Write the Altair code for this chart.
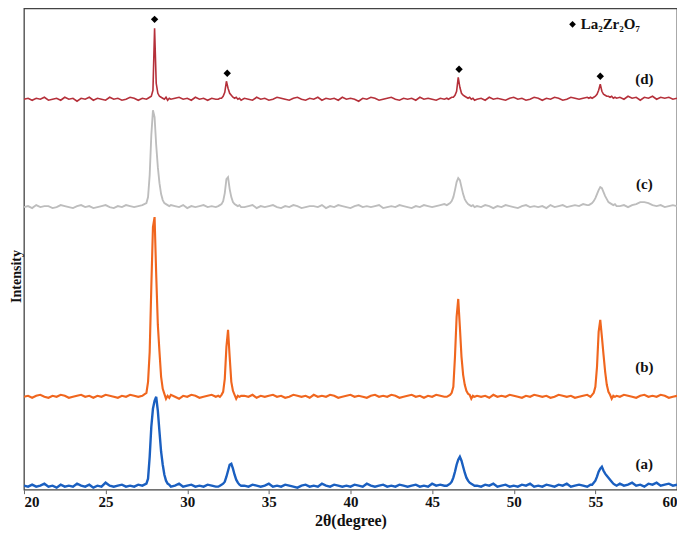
import altair as alt
import pandas as pd

# 2-theta sampling grid: (start, step, count) per segment
SEGMENTS = [(20.0, 0.25, 31), (27.6, 0.1, 15), (29.25, 0.25, 11), (31.9, 0.1, 15),
            (33.5, 0.25, 50), (45.9, 0.1, 18), (47.75, 0.25, 28), (54.6, 0.1, 18),
            (56.5, 0.25, 15)]
two_theta = [round(s + i * st, 2) for s, st, n in SEGMENTS for i in range(n)]

# relative intensities (a.u.), segment by segment
d_counts = [
    [0,1,-1,1,0,2,-1,0,1,-1,2,0,1,-2,1,0,2,-1,1,0,-1,2,0,1,-1,0,2,1,-1,1,0],
    [1,2,3,9,71,16,6,3,2,1,0,2,-1,1,0],
    [1,2,0,1,-1,2,0,1,-1,1,0],
    [0,1,1,3,7,18,11,6,4,2,1,2,0,1,-1],
    [1,0,-1,2,0,1,-1,0,2,1, 0,-1,1,2,0,-1,1,0,2,-1, 1,0,1,-1,2,0,1,0,-2,1,
     0,2,1,-1,0,1,2,0,-1,1, 0,1,-1,2,0,1,0,-1,1,0],
    [1,0,1,2,2,4,8,22,12,6,4,3,2,1,2,0,1,-1],
    [0,1,-1,2,0,1,0,-1,1,2, 0,1,-1,0,2,1,-1,1,0,2, 1,-1,0,2,1,0,1,2],
    [1,2,1,2,3,5,9,15,8,5,4,3,3,2,3,1,2,1],
    [2,0,3,1,2,-1,2,1,3,0,2,1,2,0,1],
]
c_counts = [
    [0,1,-1,2,0,1,1,-1,0,2,1,0,-1,1,2,0,1,-1,0,1,2,0,-1,1,0,2,1,0,1,2,4],
    [10,32,72,97,90,62,40,24,13,7,4,3,2,1,2],
    [1,0,2,-1,1,0,1,2,0,1,0],
    [1,2,3,6,14,28,30,18,10,5,3,2,1,2,0],
    [0,1,2,-1,1,0,1,2,0,-1, 1,0,2,1,-1,0,1,1,0,2, -1,1,0,2,1,0,-1,1,2,0,
     1,0,1,2,-1,0,1,0,2,1, 0,-1,1,0,2,1,0,1,2,3],
    [2,3,4,6,10,17,25,29,27,20,13,8,5,3,2,1,2,0],
    [1,0,2,1,-1,1,0,2,1,0, -1,1,2,0,1,0,1,-1,2,0, 1,2,0,1,2,1,3,2],
    [2,3,4,6,9,13,17,20,19,15,11,8,5,4,3,2,3,1],
    [1,2,0,2,3,5,5,4,2,1,2,0,1,2,1],
]
b_counts = [
    [0,1,-1,1,2,0,-1,1,0,2,1,-1,0,1,2,0,1,-1,1,0,2,1,0,-1,1,0,2,1,0,1,4],
    [15,45,110,170,180,122,72,45,20,8,3,-2,1,-1,2],
    [0,-2,1,0,2,1,-1,0,1,2,0],
    [1,0,2,5,18,50,67,40,15,6,2,-2,1,0,1],
    [1,0,2,-1,1,0,1,2,0,1, -1,0,2,1,0,1,-1,2,0,1, 0,2,1,-1,0,1,2,0,1,0,
     -1,1,2,0,1,0,2,1,-1,0, 1,2,0,1,-1,1,0,2,1,0],
    [0,1,2,4,10,40,80,98,70,40,22,12,6,3,2,-2,1,0],
    [1,0,1,-1,2,0,1,0,2,1, 0,-1,1,0,2,1,0,1,-1,0, 2,1,0,1,-1,0,1,2],
    [1,0,2,4,10,30,65,77,60,42,25,12,5,2,-2,1,0,1],
    [0,2,1,0,-1,1,2,0,1,0,2,1,-1,0,1],
]
a_counts = [
    [1,0,2,0,1,3,0,1,-1,2,0,1,0,3,1,0,2,-1,1,0,4,1,0,1,2,0,1,0,2,1,3],
    [8,30,60,78,86,90,76,55,35,22,12,6,3,2,0],
    [1,3,0,1,2,0,1,0,2,1,0],
    [0,1,2,3,5,10,16,22,23,18,12,7,4,2,1],
    [1,0,2,1,0,1,3,0,1,0, 2,1,0,-1,1,2,0,1,0,3, 1,0,2,1,0,1,0,2,1,0,
     3,1,0,1,2,0,1,0,2,1, 0,1,2,0,1,0,3,1,2,1],
    [1,2,3,5,9,15,22,27,30,26,20,14,9,6,4,3,2,1],
    [1,0,2,1,3,0,1,2,0,1, 0,2,1,3,0,1,0,2,1,0, 2,1,3,0,1,2,1,0],
    [1,2,2,4,6,10,15,18,20,16,13,11,9,7,5,3,2,1],
    [3,1,2,4,1,2,0,3,2,4,1,2,3,1,2],
]

series_names = ["a", "b", "c", "d"]
series_offsets = [3, 93, 283, 391]
series_colors = ["#1a5fc0", "#f0661e", "#bdbdbd", "#b5303a"]
series_widths = [2.4, 1.6, 2.0, 1.6]

peak_positions = [28.0, 32.45, 46.65, 55.3]
peak_marker_levels = [471, 417, 421, 414]

label_texts = ["(a)", "(b)", "(c)", "(d)"]
label_x = [58.0, 58.0, 58.0, 58.0]
label_y = [26, 123, 306, 411]

legend_text = "La\u2082Zr\u2082O\u2087"

rows = []
for name, off, segs in zip(series_names, series_offsets,
                           [a_counts, b_counts, c_counts, d_counts]):
    flat = [v for seg in segs for v in seg]
    assert len(flat) == len(two_theta), (name, len(flat), len(two_theta))
    for i, (x, v) in enumerate(zip(two_theta, flat)):
        rows.append({"tt": x, "I": v + off, "s": name, "o": i})
df = pd.DataFrame(rows)

SERIF = "Liberation Serif"

x_enc = alt.X("tt:Q", scale=alt.Scale(domain=[20, 60], nice=False, zero=False),
              axis=alt.Axis(values=[20, 25, 30, 35, 40, 45, 50, 55, 60], format="d",
                            title="2\u03b8(degree)", titleFont=SERIF, titleFontSize=16,
                            titleFontWeight="bold", titleColor="#111",
                            labelFont=SERIF, labelFontSize=15, labelFontWeight="bold",
                            labelColor="#111",
                            labelPadding=1, tickSize=4, tickColor="#666",
                            domain=False, grid=False, titlePadding=3))
y_scale = alt.Scale(domain=[0, 482], nice=False, zero=False)

lines = alt.Chart(df).mark_line(clip=True).encode(
    x=x_enc,
    y=alt.Y("I:Q", scale=y_scale,
            axis=alt.Axis(title="Intensity", labels=False, ticks=False, grid=False,
                          domain=False, titleFont=SERIF, titleFontSize=14,
                          titleFontWeight="bold", titleColor="#111",
                          titleX=-3, titleY=268, titleAngle=270,
                          titleBaseline="alphabetic", titleAlign="center")),
    color=alt.Color("s:N", scale=alt.Scale(domain=series_names, range=series_colors),
                    legend=None),
    strokeWidth=alt.StrokeWidth("s:N", scale=alt.Scale(domain=series_names,
                                                        range=series_widths),
                                legend=None),
    detail="s:N",
    order="o:Q",
)

markers_df = pd.DataFrame({"tt": peak_positions, "I": peak_marker_levels})
markers = alt.Chart(markers_df).mark_point(shape="diamond", filled=True, color="black",
                                           size=55, opacity=1).encode(
    x="tt:Q", y=alt.Y("I:Q", scale=y_scale))

labels_df = pd.DataFrame({"tt": label_x, "I": label_y, "t": label_texts})
labels = alt.Chart(labels_df).mark_text(font=SERIF, fontSize=15, fontWeight="bold",
                                        color="#111").encode(
    x="tt:Q", y=alt.Y("I:Q", scale=y_scale), text="t:N")

leg_marker = alt.Chart(pd.DataFrame({"tt": [53.6], "I": [466]})).mark_point(
    shape="diamond", filled=True, color="black", size=45, opacity=1).encode(
    x="tt:Q", y=alt.Y("I:Q", scale=y_scale))
leg_text = alt.Chart(pd.DataFrame({"tt": [54.1], "I": [466], "t": [legend_text]})).mark_text(
    font=SERIF, fontSize=15, fontWeight="bold", color="#111", align="left").encode(
    x="tt:Q", y=alt.Y("I:Q", scale=y_scale), text="t:N")

chart = alt.layer(lines, markers, labels, leg_marker, leg_text).properties(
    width=654, height=482,
    autosize=alt.AutoSizeParams(type="none"),
    padding={"left": 16, "top": 0, "right": 0, "bottom": 41},
    background="white",
).configure_view(stroke="#444", strokeWidth=1.3)

chart.save("out.html", embed_options={"renderer": "svg", "actions": False})
